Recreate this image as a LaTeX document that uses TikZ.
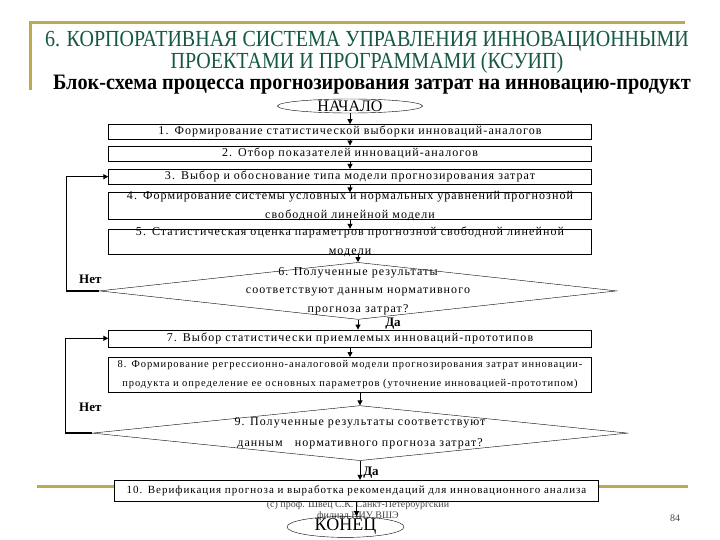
\documentclass[tikz,border=0pt]{standalone}
\usepackage{fontspec}
\setmainfont{Liberation Serif}
\newfontfamily\boxfont[LetterSpace=9]{Liberation Serif}
\newfontfamily\headfont[FakeStretch=0.87]{Liberation Serif}
\newfontfamily\subfont[FakeStretch=0.92]{Liberation Serif}
\usetikzlibrary{arrows.meta,positioning,calc,shapes.geometric}
\definecolor{headgreen}{RGB}{22,88,70}
\definecolor{rulegold}{RGB}{188,170,80}
\definecolor{footgray}{RGB}{70,70,70}

\begin{document}
\begin{tikzpicture}[
  x=1pt, y=-1pt,
  >={Triangle[length=5pt,width=5pt]},
  box/.style={draw, fill=white, minimum width=483pt, text width=475pt, inner xsep=4pt, inner ysep=1pt,
              align=center, font=\boxfont\fontsize{12}{17}\selectfont},
  term/.style={draw, ellipse, inner xsep=0pt, inner ysep=-5pt},
  choice/.style={draw, diamond, inner sep=0pt},
  ask/.style={align=center, font=\boxfont\fontsize{12}{18.5}\selectfont},
  yesno/.style={font=\bfseries\fontsize{13}{15}\selectfont, inner sep=0pt},
  foot/.style={text=footgray, align=center, font=\fontsize{10}{11}\selectfont, inner sep=0pt},
  flow/.style={->, line width=0.8pt},
  back/.style={->, line width=1.6pt},
  rule/.style={rulegold, line width=3pt}
]
  \useasboundingbox[fill=white] (0,0) rectangle (720,540);
  \draw[rule] (30,90) -- (30,23) -- (685,23);
  \draw[rule] (37,486) -- (688,486);

  \node[font=\headfont\fontsize{23}{20}\selectfont, text=headgreen, align=center, inner sep=0pt] (title) at (367,52)
    {6. КОРПОРАТИВНАЯ СИСТЕМА УПРАВЛЕНИЯ ИННОВАЦИОННЫМИ\\ПРОЕКТАМИ И ПРОГРАММАМИ (КСУИП)};
  \node[font=\subfont\bfseries\fontsize{22}{24}\selectfont, inner sep=0pt] (subtitle) at (372,85)
    {Блок-схема процесса прогнозирования затрат на инновацию-продукт};

  \node[foot] (credit) at (358,510.5) {(c) проф. Швец С.К. Санкт-Петербургский\\филиал НИУ ВШЭ};
  \node[foot] (page) at (675,518) {84};

  \node[term, minimum width=145pt, minimum height=14pt, font=\fontsize{16}{16}\selectfont] (start) at (350,106) {НАЧАЛО};
  \node[box, below=11pt of start, minimum height=15pt] (s1) {1. Формирование статистической выборки инноваций-аналогов};
  \node[box, below=6pt of s1, minimum height=15pt] (s2) {2. Отбор показателей инноваций-аналогов};
  \node[box, below=8pt of s2, minimum height=15pt] (s3) {3. Выбор и обоснование типа модели прогнозирования затрат};
  \node[box, below=8pt of s3, minimum height=27pt, inner ysep=-1.5pt, font=\boxfont\fontsize{12}{19}\selectfont] (s4)
    {4. Формирование системы условных и нормальных уравнений прогнозной\\свободной линейной модели};
  \node[box, below=9pt of s4, minimum height=25pt, inner ysep=-2.5pt, font=\boxfont\fontsize{12}{19}\selectfont] (s5)
    {5. Статистическая оценка параметров прогнозной свободной линейной\\модели};
  \node[choice, below=8pt of s5, xshift=8pt, minimum width=517pt, minimum height=57pt] (d6) {};
  \node[ask] (q6) at (d6) {6. Полученные результаты\\соответствуют данным нормативного\\прогноза затрат?};
  \node[box, below=10pt of d6, xshift=-8pt, minimum height=17pt] (s7) {7. Выбор статистически приемлемых инноваций-прототипов};
  \node[box, below=10pt of s7, minimum height=35pt, font=\boxfont\fontsize{10.5}{19}\selectfont] (s8)
    {8. Формирование регрессионно-аналоговой модели прогнозирования затрат инновации-\\продукта и определение ее основных параметров (уточнение инновацией-прототипом)};
  \node[choice, below=13pt of s8, xshift=10pt, minimum width=535pt, minimum height=55pt] (d9) {};
  \node[ask, font=\boxfont\fontsize{12}{21}\selectfont] (q9) at (d9)
    {9. Полученные результаты соответствуют\\данным \ \ нормативного прогноза затрат?};
  \node[box, below=19pt of d9, xshift=-3.5pt, minimum width=484pt, minimum height=21pt, font=\boxfont\fontsize{11}{13}\selectfont] (s10)
    {10. Верификация прогноза и выработка рекомендаций для инновационного анализа};
  \node[term, below=15pt of s10, xshift=-11pt, minimum width=117pt, minimum height=21pt, font=\fontsize{18}{18}\selectfont] (fin) {КОНЕЦ};

  \node[yesno] (no6) at ($(d6.west)+(-9,-12)$) {Нет};
  \node[yesno] (yes6) at ($(d6.south)+(35,4)$) {Да};
  \node[yesno] (no9) at ($(d9.west)+(-2,-26)$) {Нет};
  \node[yesno] (yes9) at ($(d9.south)+(11,12)$) {Да};

  \draw[flow] (start) -- (s1);
  \draw[flow] (s1) -- (s2);
  \draw[flow] (s2) -- (s3);
  \draw[flow] (s3) -- (s4);
  \draw[flow] (s4) -- (s5);
  \draw[flow] (d6.north |- s5.south) -- (d6.north);
  \draw[flow] (d6.south) -- (d6.south |- s7.north);
  \draw[flow] (s7) -- (s8);
  \draw[flow] (d9.north |- s8.south) -- (d9.north);
  \draw[flow] (d9.south) -- (d9.south |- s10.north);
  \draw[flow] (s10) -- (s10 |- fin.north);
  \draw[back] (d6.west) -- ++(-33,0) |- (s3.west);
  \draw[back] (d9.west) -- ++(-27,0) |- (s7.west);
\end{tikzpicture}
\end{document}
